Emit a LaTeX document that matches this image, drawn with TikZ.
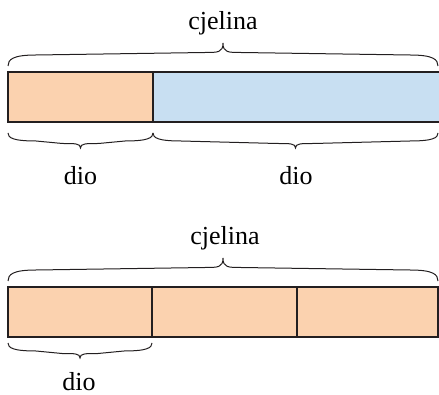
\documentclass[tikz,border=0pt]{standalone}
\usepackage{fontspec}
\setmainfont{Liberation Serif}
\definecolor{peach}{HTML}{FBD2AF}
\definecolor{skyb}{HTML}{C8DFF2}
\definecolor{ink}{HTML}{231F20}
\newcommand\curlybr[6]{%
 \pgfmathsetmacro\xa{#1}\pgfmathsetmacro\xb{#2}\pgfmathsetmacro\xm{(#1+#2)/2}%
 \pgfmathsetmacro\yf{#3+#4*#5}\pgfmathsetmacro\yn{#3+#4*(#5+2.5)}%
 \pgfmathsetmacro\yt{#3+#4*#6}\pgfmathsetmacro\ye{#3+#4*#5*0.6}%
 \draw[bracestyle] (\xa,#3) .. controls (\xa,\ye) and (\xa+5,\yf) .. (\xa+28,\yf)
   -- (\xm-18,\yn) .. controls (\xm-5,\yn) and (\xm,\yn) .. (\xm,\yt)
   .. controls (\xm,\yn) and (\xm+5,\yn) .. (\xm+18,\yn)
   -- (\xb-28,\yf) .. controls (\xb-5,\yf) and (\xb,\ye) .. (\xb,#3);%
}
\begin{document}
\begin{tikzpicture}[x=1pt,y=-1pt,
  seg/.style={draw=ink,line width=1.4pt,minimum height=50pt,inner sep=0pt,outer sep=0pt,anchor=north west},
  bracestyle/.style={draw=ink,line width=1pt},
  lbl/.style={font=\fontsize{26}{30}\selectfont,anchor=base,inner sep=0pt}]
\useasboundingbox (0,0) rectangle (439,395);
\begin{scope}
\clip (0,0) rectangle (439,395);
% first bar
\node[seg,fill=peach,minimum width=145pt] (p1) at (8,72) {};
\node[seg,fill=skyb,minimum width=300pt] (p2) at (153,72) {};
\end{scope}
\curlybr{8}{438}{66}{-1}{11}{23}
\curlybr{8}{153}{133}{1}{8}{15}
\curlybr{153}{438}{133}{1}{8}{15}
\node[lbl] (t1) at (223,30) {cjelina};
\node[lbl] (d1) at (80.5,185) {dio};
\node[lbl] (d2) at (296,185) {dio};
% second bar
\node[seg,fill=peach,minimum width=144pt] (q1) at (8,287) {};
\node[seg,fill=peach,minimum width=145pt] (q2) at (152,287) {};
\node[seg,fill=peach,minimum width=141pt] (q3) at (297,287) {};
\curlybr{8}{438}{281}{-1}{11}{23}
\curlybr{8}{152}{343}{1}{8}{15}
\node[lbl] (t2) at (225,245) {cjelina};
\node[lbl] (d3) at (79,390) {dio};
\end{tikzpicture}
\end{document}
